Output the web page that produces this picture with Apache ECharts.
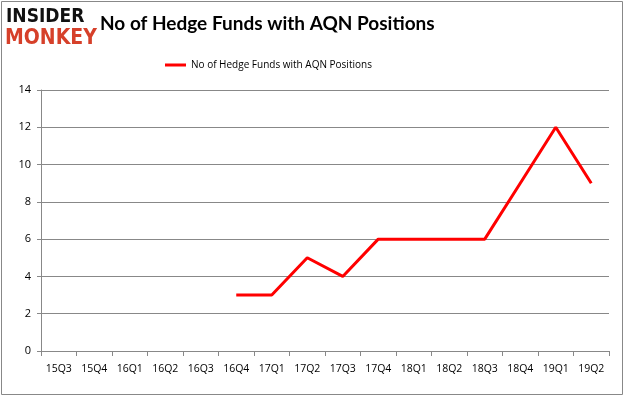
<!DOCTYPE html>
<html><head><meta charset="utf-8">
<script src="https://cdn.jsdelivr.net/npm/echarts@6/dist/echarts.min.js"></script>
<style>html,body{margin:0;padding:0;background:#fff}#c{width:626px;height:397px}</style>
</head><body><div id="c"></div>
<script>
const categories = ['15Q3','15Q4','16Q1','16Q2','16Q3','16Q4','17Q1','17Q2','17Q3','17Q4','18Q1','18Q2','18Q3','18Q4','19Q1','19Q2'];
const hedgeFunds = [null,null,null,null,null,3,3,5,4,6,6,6,6,9,12,9];
const yTicks = {min:0,max:14,interval:2};
const seriesName = 'No of Hedge Funds with AQN Positions';

const chart = echarts.init(document.getElementById('c'));
chart.setOption({
  animation:false,
  backgroundColor:'#fff',
  graphic:[
    {type:'rect',shape:{x:1.5,y:1.5,width:621,height:393},style:{fill:'none',stroke:'#888',lineWidth:1}},
    {type:'text',left:6,top:8,style:{text:'INSIDER',font:'bold 19px "DejaVu Sans Condensed"',fill:'#111'}},
    {type:'text',left:5,top:28,style:{text:'MONKEY',font:'bold 21px "DejaVu Sans Condensed"',fill:'#d6402a'}},
    {type:'text',left:100,top:14,style:{text:'No of Hedge Funds with AQN Positions',font:'bold 19px "Lato"',fill:'#000'}}
  ],
  legend:{top:55,left:160,itemWidth:21,itemHeight:3,itemGap:5,icon:'rect',
    textStyle:{fontFamily:'"Open Sans"',fontSize:10,color:'#000'},data:[seriesName]},
  grid:{left:41,right:17,top:90,bottom:46},
  xAxis:{type:'category',data:categories,boundaryGap:true,
    axisLine:{lineStyle:{color:'#888'}},axisTick:{show:true,lineStyle:{color:'#888'}},
    axisLabel:{interval:0,color:'#000',fontFamily:'"Open Sans"',fontSize:10.5,margin:13}},
  yAxis:{type:'value',min:yTicks.min,max:yTicks.max,interval:yTicks.interval,
    axisLine:{show:true,lineStyle:{color:'#888'}},axisTick:{show:true,length:4,lineStyle:{color:'#888'}},
    splitLine:{lineStyle:{color:'#888'}},
    axisLabel:{color:'#000',fontFamily:'"Open Sans"',fontSize:11,margin:10}},
  series:[{name:seriesName,type:'line',data:hedgeFunds,showSymbol:false,symbol:'none',
    lineStyle:{color:'#ff0000',width:3},itemStyle:{color:'#ff0000'},connectNulls:false}]
});
</script></body></html>
